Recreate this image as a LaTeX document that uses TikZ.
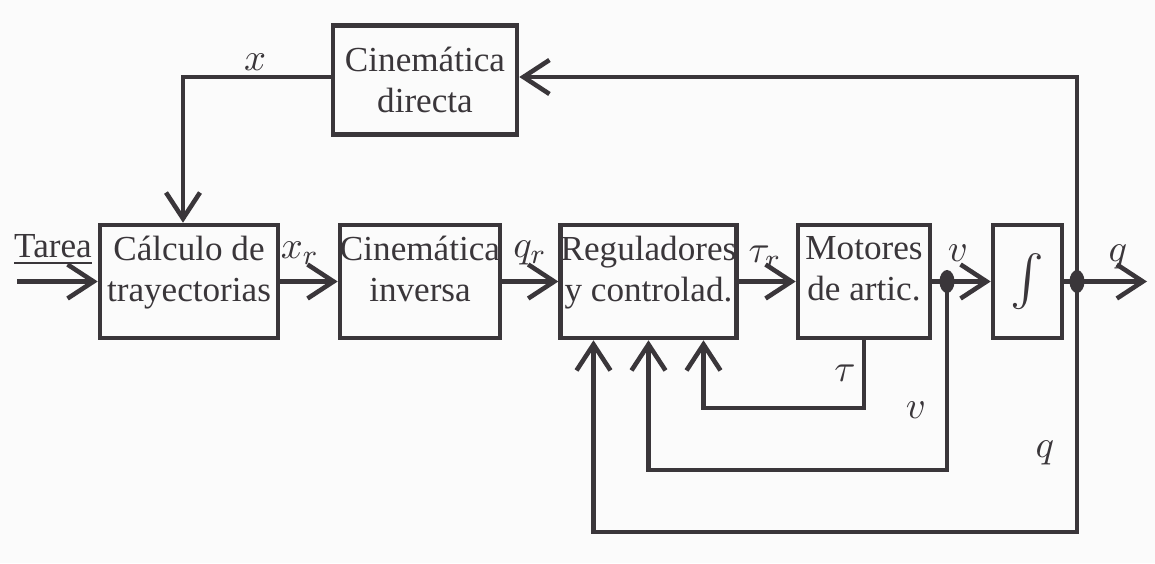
\documentclass[tikz,border=0pt]{standalone}
\usepackage{amsmath}
\usepackage{fontspec}
\setmainfont{Liberation Serif}
\usetikzlibrary{arrows.meta,calc,positioning}
\definecolor{ink}{HTML}{3A363A}
\definecolor{papel}{HTML}{FBFBFB}

\begin{document}
\begin{tikzpicture}[>={Straight Barb[length=2.6mm,width=3.4mm]}, line width=1.3pt, color=ink,
	bloque/.style={draw, rectangle, inner sep=0pt, minimum height=1.13cm, align=center, font=\fontsize{10}{11.6}\selectfont},
	texto/.style={text depth=0.26cm},
	etiq/.style={inner sep=0pt, font=\fontsize{11}{13}\selectfont}]
	\useasboundingbox[fill=papel] (0,0) rectangle (11.55,5.63);
	% bloques
	\node[bloque, minimum width=1.84cm, minimum height=1.09cm] (dir) at (4.25,4.83) {Cinemática\\directa};
	\node[bloque, texto, minimum width=1.78cm] (calc) at (1.89,2.815) {Cálculo de\\trayectorias};
	\node[bloque, texto, minimum width=1.60cm] (inv) at (4.20,2.815) {Cinemática\\inversa};
	\node[bloque, texto, minimum width=1.73cm] (reg) at (6.485,2.815) {Reguladores\\y controlad.};
	\node[bloque, texto, minimum width=1.32cm] (mot) at (8.64,2.815) {Motores\\de artic.};
	\node[bloque, minimum width=0.69cm] (int) at (10.275,2.815) {\fontsize{15.5}{16}\selectfont$\int$};
	% puntos auxiliares
	\coordinate (entrada) at (0.17,2.815);
	\coordinate (salida) at (11.47,2.815);
	\coordinate (pv) at (9.47,2.815);
	\coordinate (pq) at (10.77,2.815);
	\coordinate (esq) at (10.77,4.86);
	\coordinate (ytau) at (0,1.55);
	\coordinate (yv) at (0,0.93);
	\coordinate (yq) at (0,0.31);
	\coordinate (r1) at ($(reg.south)+(-0.55,0)$);
	\coordinate (r2) at (reg.south);
	\coordinate (r3) at ($(reg.south)+(0.55,0)$);
	% cadena directa
	\draw[->] (entrada) -- (calc);
	\draw[->] (calc) -- (inv);
	\draw[->] (inv) -- (reg);
	\draw[->] (reg) -- (mot);
	\draw (mot) -- (pv);
	\draw[->] (pv) -- (int);
	\draw (int) -- (pq);
	\draw[->] (pq) -- (salida);
	\fill (pv) ellipse [x radius=0.075, y radius=0.115];
	\fill (pq) ellipse [x radius=0.075, y radius=0.115];
	% realimentaciones
	\draw[->] (pq) -- (esq) -- (esq -| dir.east);
	\draw[->] (esq -| dir.west) -- (esq -| 1.83,0) -- (1.83,0 |- calc.north);
	\draw[->] (mot.south) -- (mot.south |- ytau) -| (r3);
	\draw[->] (pv) -- (pv |- yv) -| (r2);
	\draw[->] (pq) -- (pq |- yq) -| (r1);
	% etiquetas
	\node[etiq, font=\fontsize{10}{11.6}\selectfont] (tarea) at (0.53,3.13) {\underline{Tarea}};
	\node[etiq] (lx) at (2.55,5.01) {$x$};
	\node[etiq] (lxr) at (3.00,3.10) {$x_r$};
	\node[etiq] (lqr) at (5.30,3.10) {$q_r$};
	\node[etiq] (ltr) at (7.65,3.06) {$\tau_r$};
	\node[etiq] (lv) at (9.58,3.10) {$v$};
	\node[etiq] (lq) at (11.18,3.06) {$q$};
	\node[etiq] (lt) at (8.45,1.90) {$\tau$};
	\node[etiq] (lv2) at (9.16,1.53) {$v$};
	\node[etiq] (lq2) at (10.45,1.10) {$q$};
\end{tikzpicture}
\end{document}
